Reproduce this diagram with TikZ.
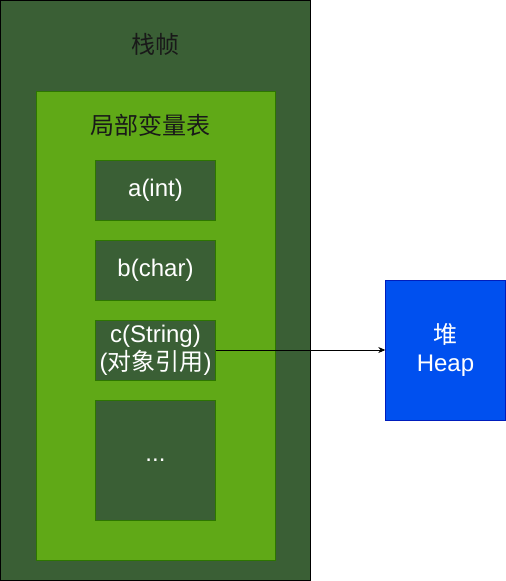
\documentclass[tikz,border=0pt]{standalone}
\usepackage{fontspec}
\setmainfont{Liberation Sans}
\newfontfamily\cjk{Noto Sans CJK SC}
\usepackage{tikz}
\usetikzlibrary{arrows.meta,positioning}

\definecolor{framegreen}{HTML}{3A5F35}
\definecolor{tablegreen}{HTML}{60A917}
\definecolor{tableedge}{HTML}{2D7600}
\definecolor{heapblue}{HTML}{0050EF}
\definecolor{heapedge}{HTML}{001DBC}

\begin{document}
\begin{tikzpicture}[
    x=1pt, y=-1pt,
    font=\fontsize{24}{28}\selectfont,
    framebox/.style={draw=black, fill=framegreen, line width=0.8pt, minimum width=310pt, minimum height=580pt, inner sep=0pt},
    tablebox/.style={draw=tableedge, fill=tablegreen, line width=0.8pt, minimum width=239pt, minimum height=469pt, inner sep=0pt},
    slot/.style={draw=tableedge, fill=framegreen, text=white, align=center, minimum width=120pt, minimum height=60pt, inner sep=0pt},
    heapbox/.style={draw=heapedge, fill=heapblue, text=white, align=center, minimum width=120pt, minimum height=140pt, inner sep=0pt},
    title/.style={text=black!90, inner sep=0pt}
]
    \useasboundingbox (0,0) rectangle (506,581);

    % Stack frame and its local variable table
    \node[framebox] (frame) at (155.5,290.5) {};
    \node[title] (frameTitle) at (155.5,44) {\cjk 栈帧};
    \node[tablebox] (vartable) at (155.5,325.5) {};
    \node[title] (tableTitle) at (150,125) {\cjk 局部变量表};

    % Slots of the table
    \node[slot] (varA) at (155.5,190) {a(int)};
    \node[slot] (varB) at (155.5,270) {b(char)};
    \node[slot, font=\fontsize{24}{28}\selectfont] (varC) at (155.5,350) {c(String)\\({\cjk 对象引用})};
    \node[slot, minimum height=120pt] (varMore) at (155.5,460) {...};

    % Heap
    \node[heapbox] (heap) at (445.5,350) {{\cjk 堆}\\Heap};

    % Reference into the heap
    \draw[-{Stealth[length=7pt,width=6pt]}, line width=0.7pt] (varC.east) -- (heap.west);
\end{tikzpicture}
\end{document}
